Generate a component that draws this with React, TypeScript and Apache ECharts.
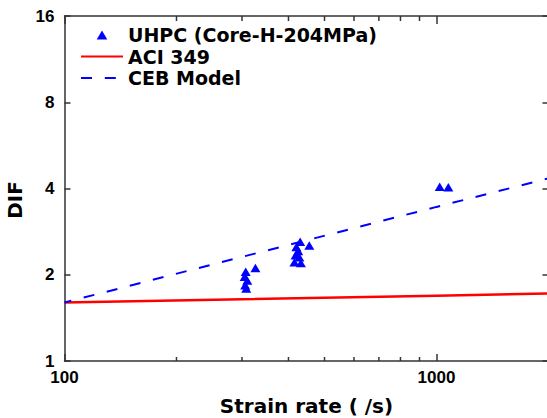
import React, { useEffect, useRef } from "react";
import * as echarts from "echarts";

// ---- data ----
const uhpcX = [307, 305, 310, 306, 308, 326, 430, 420, 425, 418, 428, 415, 432, 455, 1020, 1076];
const uhpcY = [2.05, 1.97, 1.91, 1.84, 1.79, 2.11, 2.61, 2.5, 2.42, 2.34, 2.3, 2.21, 2.2, 2.53, 4.06, 4.04];

const aciX = [100, 1000, 2000];
const aciY = [1.6, 1.69, 1.72];

const cebX = [100, 1000, 2000];
const cebY = [1.6, 3.45, 4.34];

const xMinorTicks = [200, 300, 400, 500, 600, 700, 800, 900];
const xTickLabels = ["100", "1000"];
const yTickLabels = ["1", "2", "4", "8", "16"];

const seriesNames = ["UHPC (Core-H-204MPa)", "ACI 349", "CEB Model"];

const AXIS_COLOR = "#333333";
const TICK_FONT = "Liberation Sans";
const TITLE_FONT = "DejaVu Sans";

export default function App() {
  const ref = useRef<HTMLDivElement>(null);

  useEffect(() => {
    if (!ref.current) return;
    const chart = echarts.init(ref.current, undefined, { renderer: "svg" });

    const xMin = 100;
    const xMax = 2000;
    const yMin = 1;
    const yMax = 16;

    const baseX = {
      type: "log",
      logBase: 10,
      min: xMin,
      max: xMax,
      splitLine: { show: false },
      axisLine: { show: true, lineStyle: { color: AXIS_COLOR, width: 1.5 } },
    };
    const baseY = {
      type: "log",
      logBase: 2,
      min: yMin,
      max: yMax,
      splitLine: { show: false },
      axisLine: { show: true, lineStyle: { color: AXIS_COLOR, width: 1.5 } },
      axisTick: { show: true, inside: true, length: 6, lineStyle: { color: AXIS_COLOR, width: 1.5 } },
    };

    const hiddenSymbol = { color: "rgba(0,0,0,0)", borderColor: "rgba(0,0,0,0)", borderWidth: 0, opacity: 0 };

    const option: any = {
      animation: false,
      backgroundColor: "#ffffff",
      grid: {
        left: 64.5,
        top: 16,
        width: 484,
        height: 345,
        outerBoundsMode: "none",
        containLabel: false,
      },
      legend: {
        orient: "vertical",
        left: 75,
        top: 20.5,
        itemWidth: 42,
        itemHeight: 9,
        itemGap: 2.5,
        data: [
          { name: seriesNames[0], icon: "path://M5,0L10,8.5L0,8.5Z" },
          { name: seriesNames[1], itemStyle: hiddenSymbol },
          { name: seriesNames[2], itemStyle: hiddenSymbol, lineStyle: { dashOffset: 0 } },
        ],
        textStyle: {
          fontFamily: TITLE_FONT,
          fontWeight: "bold",
          fontSize: 19,
          lineHeight: 19,
          color: "#000",
        },
      },
      xAxis: [
        {
          ...baseX,
          position: "bottom",
          name: "Strain rate ( /s)",
          nameLocation: "middle",
          nameGap: 35,
          nameTextStyle: {
            fontFamily: TITLE_FONT,
            fontWeight: "bold",
            fontSize: 20,
            color: "#000",
          },
          axisTick: { show: true, inside: true, length: 7, lineStyle: { color: AXIS_COLOR, width: 1.5 } },
          axisLabel: {
            show: true,
            margin: 9,
            fontFamily: TICK_FONT,
            fontWeight: "bold",
            fontSize: 17,
            lineHeight: 15,
            color: "#000",
            showMaxLabel: false,
            formatter: (v: number) => {
              const s = String(Math.round(v));
              return xTickLabels.indexOf(s) >= 0 ? s : "";
            },
          },
        },
        {
          ...baseX,
          position: "top",
          axisTick: { show: true, inside: true, length: 8, lineStyle: { color: AXIS_COLOR, width: 1.5 } },
          axisLabel: { show: false },
        },
      ],
      yAxis: [
        {
          ...baseY,
          position: "left",
          name: "DIF",
          nameLocation: "middle",
          nameGap: 38.5,
          nameTextStyle: {
            fontFamily: TITLE_FONT,
            fontWeight: "bold",
            fontSize: 20,
            color: "#000",
            padding: [0, 23, 0, 0],
          },
          axisLabel: {
            show: true,
            margin: 10,
            fontFamily: TICK_FONT,
            fontWeight: "bold",
            fontSize: 17,
            lineHeight: 13,
            color: "#000",
            formatter: (v: number) => {
              const s = String(Math.round(v));
              return yTickLabels.indexOf(s) >= 0 ? s : "";
            },
          },
        },
        {
          ...baseY,
          position: "right",
          axisLine: { show: false },
          axisLabel: { show: false },
        },
      ],
      series: [
        {
          name: seriesNames[0],
          type: "scatter",
          symbol: "triangle",
          symbolSize: [10, 8.5],
          itemStyle: { color: "#0000ff", opacity: 1 },
          data: uhpcX.map((x, i) => [x, uhpcY[i]]),
          z: 5,
        },
        {
          name: seriesNames[1],
          type: "line",
          symbol: "none",
          lineStyle: { color: "#ff0000", width: 2.5, type: "solid" },
          itemStyle: { color: "#ff0000" },
          data: aciX.map((x, i) => [x, aciY[i]]),
          z: 3,
        },
        {
          name: seriesNames[2],
          type: "line",
          symbol: "none",
          lineStyle: { color: "#0000ff", width: 2, type: [11, 12.8], dashOffset: 4 },
          itemStyle: { color: "#0000ff" },
          data: cebX.map((x, i) => [x, cebY[i]]),
          z: 4,
        },
        {
          name: "minorTicks",
          type: "custom",
          silent: true,
          xAxisIndex: 0,
          yAxisIndex: 0,
          clip: false,
          data: xMinorTicks.map((v) => [v, yMin]),
          renderItem: (_params: any, api: any) => {
            const x = api.value(0);
            const pb = api.coord([x, yMin]);
            const pt = api.coord([x, yMax]);
            const st = { stroke: AXIS_COLOR, lineWidth: 1.5 };
            return {
              type: "group",
              children: [
                { type: "line", shape: { x1: pb[0], y1: pb[1], x2: pb[0], y2: pb[1] - 4 }, style: st },
                { type: "line", shape: { x1: pt[0], y1: pt[1], x2: pt[0], y2: pt[1] + 5 }, style: st },
              ],
            };
          },
          z: 10,
        },
      ],
    };

    chart.setOption(option);
    return () => {
      chart.dispose();
    };
  }, []);

  return (
    <div
      ref={ref}
      style={{ position: "fixed", left: 0, top: 0, width: 547, height: 418 }}
    />
  );
}
